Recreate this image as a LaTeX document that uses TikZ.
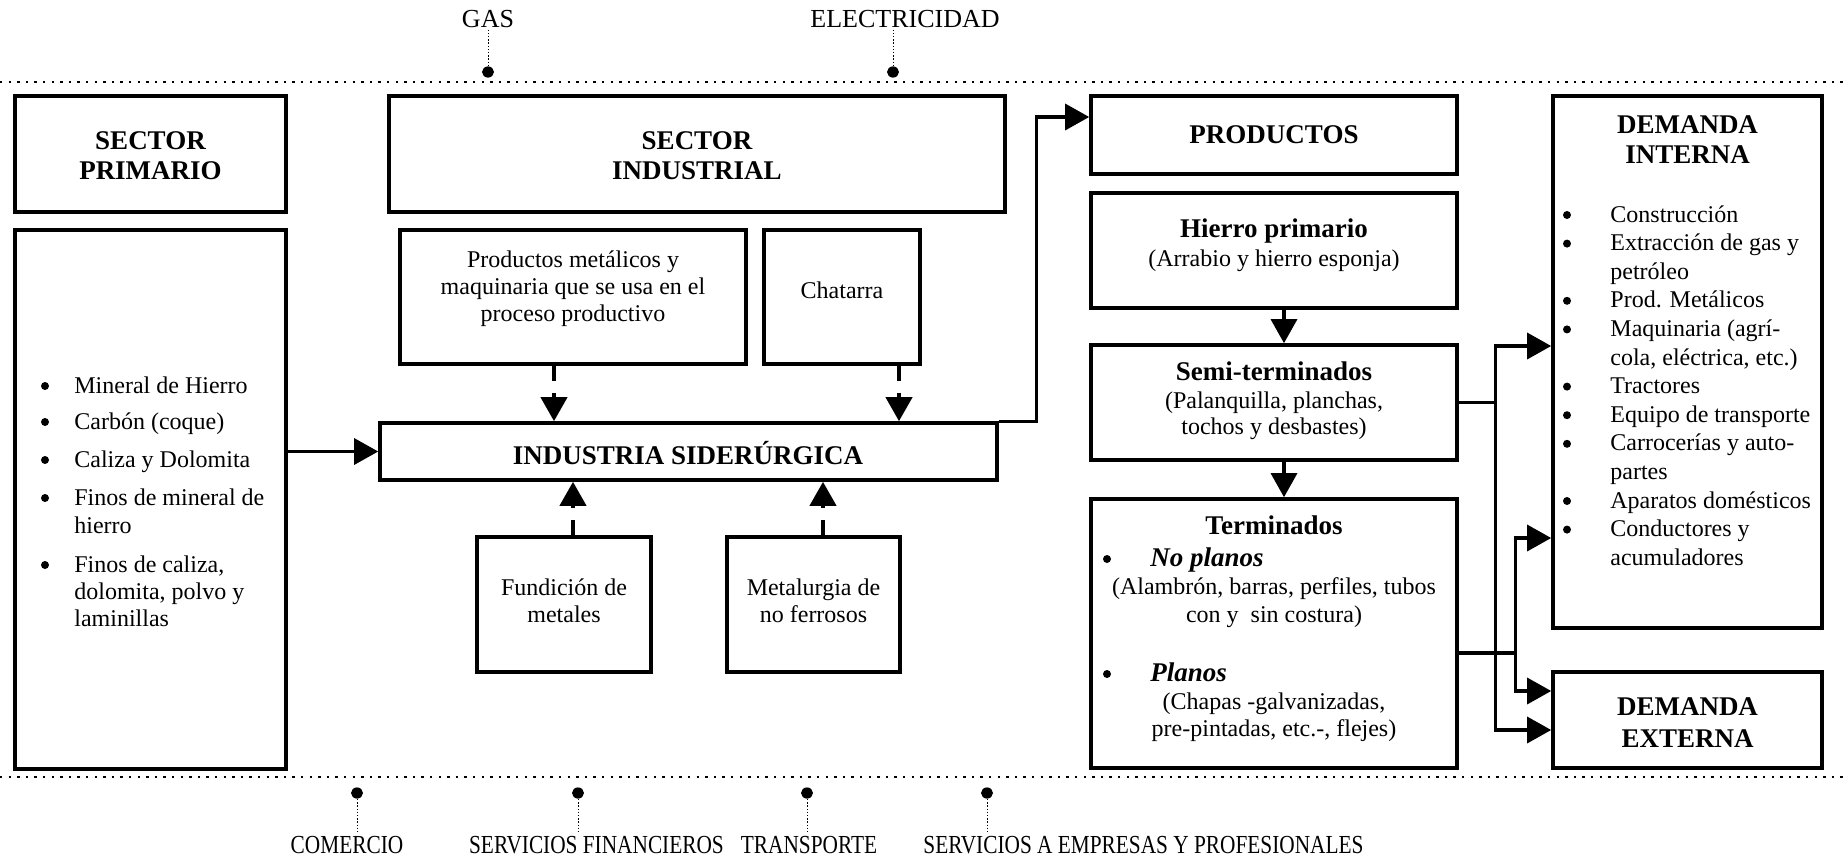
\documentclass[tikz,border=0pt]{standalone}
\usepackage{fontspec}
\usepackage{graphicx}
\setmainfont{Liberation Serif}
\usetikzlibrary{arrows.meta,shapes.geometric}
\begin{document}
\begin{tikzpicture}[x=0.5pt,y=-0.5pt,
  box/.style={draw, line width=1.8pt, inner sep=0pt},
  txt/.style={inner sep=0pt, anchor=base, font=\fontsize{12}{14}\selectfont},
  txtl/.style={txt, anchor=base west},
  ttl/.style={inner sep=0pt, anchor=base, font=\fontsize{13.5}{15.5}\selectfont\bfseries},
  ttli/.style={inner sep=0pt, anchor=base west, font=\fontsize{13.5}{15.5}\selectfont\bfseries\itshape},
  lbl/.style={inner sep=0pt, anchor=base, font=\fontsize{13}{15}\selectfont},
  arr/.style={line width=1.6pt, -{Triangle[length=12pt,width=13pt]}},
  darr/.style={arr, line width=2pt, dash pattern=on 7.5pt off 6pt},
  hdots/.style={line width=1.2pt, dash pattern=on 1.2pt off 3.1pt},
  vdots/.style={line width=0.5pt, dash pattern=on 0.7pt off 0.9pt},
  bdot/.style={ellipse, fill, inner sep=0pt, minimum width=6pt, minimum height=5.6pt},
  bul/.style={circle, fill, inner sep=0pt, minimum size=4pt, yshift=3.5pt}
]
\useasboundingbox (0,0) rectangle (1843,857);

% dotted borders
\draw[hdots] (0,82) -- (1843,82);
\draw[hdots] (0,777) -- (1843,777);

% top labels
\node[lbl] (gas) at (488,27) {GAS};
\node[lbl] (elec) at (905,27) {ELECTRICIDAD};
\node[bdot] (dgas) at (488,72) {};
\node[bdot] (delec) at (893,72) {};
\draw[vdots] ([yshift=-1pt]gas.south) -- (dgas);
\draw[vdots] ([yshift=-1pt]delec |- elec.south) -- (delec);

% bottom labels
\node[bdot] (dcom) at (357,793) {};
\node[bdot] (dfin) at (578,793) {};
\node[bdot] (dtra) at (807,793) {};
\node[bdot] (dser) at (987,793) {};
\node[lbl] (com) at (347,853) {\scalebox{0.82}[1]{COMERCIO}};
\node[lbl] (fin) at (596.5,853) {\scalebox{0.82}[1]{SERVICIOS FINANCIEROS}};
\node[lbl] (tra) at (809,853) {\scalebox{0.82}[1]{TRANSPORTE}};
\node[lbl] (ser) at (1143.5,853) {\scalebox{0.82}[1]{SERVICIOS A EMPRESAS Y PROFESIONALES}};
\draw[vdots] (dcom) -- ([yshift=2pt]dcom |- com.north);
\draw[vdots] (dfin) -- ([yshift=2pt]dfin |- fin.north);
\draw[vdots] (dtra) -- ([yshift=2pt]dtra |- tra.north);
\draw[vdots] (dser) -- ([yshift=2pt]dser |- ser.north);

% boxes
\node[box, minimum width=135.5pt, minimum height=58pt] (sp) at (150.5,154) {};
\node[box, minimum width=135.5pt, minimum height=269.5pt] (lst) at (150.5,499.5) {};
\node[box, minimum width=308pt, minimum height=58pt] (si) at (697,154) {};
\node[box, minimum width=173pt, minimum height=67pt] (pm) at (573,297) {};
\node[box, minimum width=78pt, minimum height=67pt] (ch) at (842,297) {};
\node[box, minimum width=308.5pt, minimum height=28.5pt] (ind) at (688.5,451.5) {};
\node[box, minimum width=87pt, minimum height=67.5pt] (fu) at (564,604.5) {};
\node[box, minimum width=86.5pt, minimum height=67.5pt] (me) at (813.5,604.5) {};
\node[box, minimum width=183pt, minimum height=39pt] (pr) at (1274,135) {};
\node[box, minimum width=183pt, minimum height=57.5pt] (hp) at (1274,250.5) {};
\node[box, minimum width=183pt, minimum height=57.5pt] (st) at (1274,402.5) {};
\node[box, minimum width=183pt, minimum height=134.5pt] (te) at (1274,633.5) {};
\node[box, minimum width=134.5pt, minimum height=266pt] (di) at (1687.5,362) {};
\node[box, minimum width=134.5pt, minimum height=48pt] (de) at (1687.5,720) {};

% titles
\node[ttl] (tsp1) at (150.5,149) {SECTOR};
\node[ttl] (tsp2) at (150.5,179) {PRIMARIO};
\node[ttl] (tsi1) at (697,149) {SECTOR};
\node[ttl] (tsi2) at (697,179) {INDUSTRIAL};
\node[ttl] (tind) at (688,464) {INDUSTRIA SIDERÚRGICA};
\node[ttl] (tpr) at (1274,143) {PRODUCTOS};
\node[ttl] (tdi1) at (1687.5,133) {DEMANDA};
\node[ttl] (tdi2) at (1687.5,163) {INTERNA};
\node[ttl] (tde1) at (1687.5,715) {DEMANDA};
\node[ttl] (tde2) at (1687.5,747) {EXTERNA};

% left list
\node[bul] (lb1) at (45,393) {};
\node[bul] (lb2) at (45,429) {};
\node[bul] (lb3) at (45,467) {};
\node[bul] (lb4) at (45,505) {};
\node[bul] (lb5) at (45,572) {};
\node[txtl] (l1) at (74,393) {Mineral de Hierro};
\node[txtl] (l2) at (74,429) {Carbón (coque)};
\node[txtl] (l3) at (74,467) {Caliza y Dolomita};
\node[txtl] (l4a) at (74,505) {Finos de mineral de};
\node[txtl] (l4b) at (74,533) {hierro};
\node[txtl] (l5a) at (74,572) {Finos de caliza,};
\node[txtl] (l5b) at (74,599) {dolomita, polvo y};
\node[txtl] (l5c) at (74,626) {laminillas};

% industrial boxes text
\node[txt] (pm1) at (573,267) {Productos metálicos y};
\node[txt] (pm2) at (573,294) {maquinaria que se usa en el};
\node[txt] (pm3) at (573,321) {proceso productivo};
\node[txt] (ch1) at (842,298) {Chatarra};
\node[txt] (fu1) at (564,595) {Fundición de};
\node[txt] (fu2) at (564,622) {metales};
\node[txt] (me1) at (813.5,595) {Metalurgia de};
\node[txt] (me2) at (813.5,622) {no ferrosos};

% products text
\node[ttl] (hp1) at (1274,237) {Hierro primario};
\node[txt] (hp2) at (1274,266) {(Arrabio y hierro esponja)};
\node[ttl] (st1) at (1274,380) {Semi-terminados};
\node[txt] (st2) at (1274,408) {(Palanquilla, planchas,};
\node[txt] (st3) at (1274,434) {tochos y desbastes)};
\node[ttl] (te1) at (1274,534) {Terminados};
\node[bul] (teb1) at (1107,566) {};
\node[ttli] (te2) at (1150,566) {No planos};
\node[txt] (te3) at (1274,594) {(Alambrón, barras, perfiles, tubos};
\node[txt] (te4) at (1274,622) {con y\ \ sin costura)};
\node[bul] (teb2) at (1107,681) {};
\node[ttli] (te5) at (1150,681) {Planos};
\node[txt] (te6) at (1274,709) {(Chapas -galvanizadas,};
\node[txt] (te7) at (1274,736) {pre-pintadas, etc.-, flejes)};

% demanda interna list
\node[bul] (db1) at (1567,222) {};
\node[bul] (db2) at (1567,250.6) {};
\node[bul] (db3) at (1567,307.8) {};
\node[bul] (db4) at (1567,336.4) {};
\node[bul] (db5) at (1567,393.6) {};
\node[bul] (db6) at (1567,422.2) {};
\node[bul] (db7) at (1567,450.8) {};
\node[bul] (db8) at (1567,508) {};
\node[bul] (db9) at (1567,536.6) {};
\node[txtl] (d1) at (1610,222) {Construcción};
\node[txtl] (d2) at (1610,250.6) {Extracción de gas y};
\node[txtl] (d3) at (1610,279.2) {petróleo};
\node[txtl] (d4) at (1610,307.8) {Prod. Metálicos};
\node[txtl] (d5) at (1610,336.4) {Maquinaria (agrí-};
\node[txtl] (d6) at (1610,365) {cola, eléctrica, etc.)};
\node[txtl] (d7) at (1610,393.6) {Tractores};
\node[txtl] (d8) at (1610,422.2) {Equipo de transporte};
\node[txtl] (d9) at (1610,450.8) {Carrocerías y auto-};
\node[txtl] (d10) at (1610,479.4) {partes};
\node[txtl] (d11) at (1610,508) {Aparatos domésticos};
\node[txtl] (d12) at (1610,536.6) {Conductores y};
\node[txtl] (d13) at (1610,565.2) {acumuladores};

% connectors
\draw[arr] (lst.east |- ind.west) -- (ind.west);
\draw[darr] ([xshift=-9.5pt]pm.south) -- ([xshift=-9.5pt]pm.south |- ind.north);
\draw[darr] ([xshift=28.5pt]ch.south) -- ([xshift=28.5pt]ch.south |- ind.north);
\draw[darr] ([xshift=4.5pt]fu.north) -- ([xshift=4.5pt]fu.north |- ind.south);
\draw[darr] ([xshift=4.75pt]me.north) -- ([xshift=4.75pt]me.north |- ind.south);
\draw[arr] (ind.north east) -- ++(19pt,0) |- ([yshift=9pt]pr.west);
\draw[arr] ([xshift=5pt]hp.south) -- ([xshift=5pt]st.north);
\draw[arr] ([xshift=5pt]st.south) -- ([xshift=5pt]te.north);
\draw[arr] (st.east) -- ++(18.5pt,0) |- ([yshift=8pt]di.west);
\draw[arr] (st.east) -- ++(18.5pt,0) |- ([yshift=-5pt]de.west);
\draw[arr] ([yshift=-9.75pt]te.east) -- ++(28.5pt,0) |- ([yshift=-88pt]di.west);
\draw[arr] ([yshift=-9.75pt]te.east) -- ++(28.5pt,0) |- ([yshift=14.5pt]de.west);
\end{tikzpicture}
\end{document}
